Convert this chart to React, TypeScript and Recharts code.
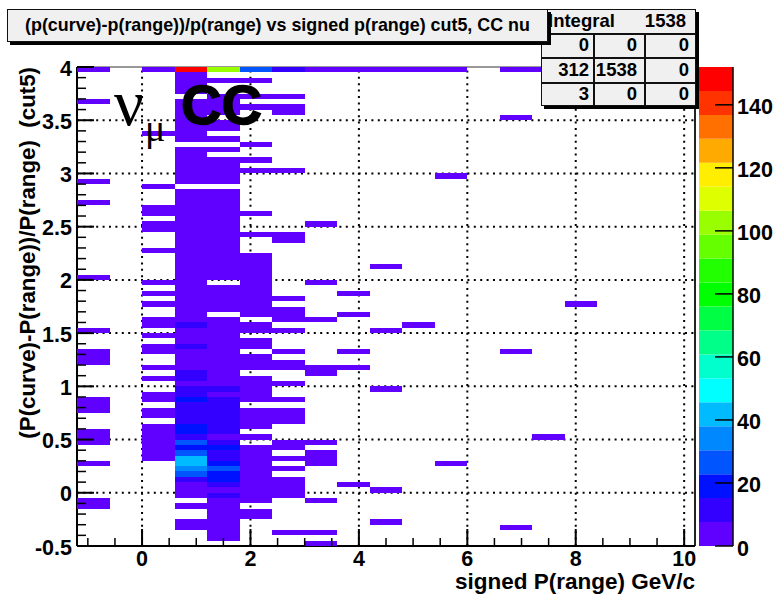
import React from 'react';
import { ScatterChart, Scatter, XAxis, YAxis, ReferenceLine, Label, BarChart, Bar } from 'recharts';

// Bin runs per momentum column: [first row from top, last row from top, count]
const col0 = [[0,0,4],[6,6,4],[21,21,4],[25,25,4],[39,39,4],[49,49,4],[53,55,4],[62,64,4],[68,70,4],[74,74,4],[81,82,4]];
const col2 = [[0,0,4],[12,12,4],[22,22,4],[26,27,4],[29,30,4],[34,34,4],[40,40,4],[42,42,4],[44,44,4],[47,48,4],[50,50,4],[52,53,4],[56,56,4],[58,58,4],[61,62,4],[64,65,4],[67,73,4]];
const col3 = [[0,0,152],[1,4,4],[6,13,4],[15,21,4],[23,47,4],[48,48,11],[49,51,4],[52,52,11],[53,56,4],[57,58,11],[59,59,4],[60,61,11],[62,62,19],[63,66,11],[67,68,19],[69,69,11],[70,70,26],[71,71,19],[72,72,26],[73,74,41],[75,75,34],[76,76,26],[77,77,11],[78,80,4],[82,82,4],[85,86,4]];
const col4 = [[0,0,102],[2,2,4],[5,8,4],[10,11,4],[13,13,4],[15,15,4],[17,21,4],[23,39,4],[41,45,4],[47,59,4],[60,60,11],[61,61,4],[62,68,11],[69,69,4],[70,70,11],[71,71,19],[72,73,11],[74,74,19],[75,75,26],[76,77,19],[78,78,11],[79,79,4],[80,80,11],[81,88,4]];
const col5 = [[0,0,26],[2,2,4],[5,5,4],[7,7,4],[14,14,4],[17,17,4],[19,19,4],[27,27,4],[31,31,4],[35,46,4],[48,49,4],[51,52,4],[54,56,4],[58,62,4],[64,67,4],[69,69,4],[71,81,4],[83,84,4]];
const col6 = [[0,0,11],[5,5,4],[7,8,4],[19,19,4],[31,32,4],[43,43,4],[45,47,4],[49,49,4],[53,53,4],[55,56,4],[59,59,4],[62,62,4],[64,66,4],[70,71,4],[73,73,4],[75,75,4],[77,80,4],[87,87,4]];
const col7 = [[0,0,4],[29,29,4],[40,40,4],[47,47,4],[56,57,4],[70,70,4],[72,74,4],[81,81,4],[87,87,4],[89,89,4]];
const col8 = [[0,0,4],[42,42,4],[46,46,4],[53,53,4],[56,56,4],[78,78,4]];
const col9 = [[0,0,4],[37,37,4],[49,49,4],[60,60,4],[79,79,4],[85,85,4]];
const col10 = [[0,0,4],[48,48,4]];
const col11 = [[0,0,4],[20,20,4],[74,74,4]];
const col13 = [[0,0,4],[9,9,4],[53,53,4],[86,86,4]];
const col14 = [[0,0,4],[69,69,4]];
const col15 = [[44,44,4]];
const columns: [number, number[][]][] = [[0,col0],[2,col2],[3,col3],[4,col4],[5,col5],[6,col6],[7,col7],[8,col8],[9,col9],[10,col10],[11,col11],[13,col13],[14,col14],[15,col15]];

const palette = ['#6000ff','#3300ff','#0011ff','#0055ff','#0088ff','#00bbff','#00ffff','#00ffcc','#00ff88','#00ff44','#00ff00','#22ff00','#66ff00','#99ff00','#ddff00','#ffee00','#ffaa00','#ff7000','#ff3300','#ff0000'];
const xTicks = [-1,-0.5,0,0.5,1,1.5,2,2.5,3,3.5,4,4.5,5,5.5,6,6.5,7,7.5,8,8.5,9,9.5,10];
const xGrid = [0,2,4,6,8,10];
const yTicks = [-0.5,-0.4,-0.3,-0.2,-0.1,0,0.1,0.2,0.3,0.4,0.5,0.6,0.7,0.8,0.9,1,1.1,1.2,1.3,1.4,1.5,1.6,1.7,1.8,1.9,2,2.1,2.2,2.3,2.4,2.5,2.6,2.7,2.8,2.9,3,3.1,3.2,3.3,3.4,3.5,3.6,3.7,3.8,3.9,4];
const yGrid = [0,0.5,1,1.5,2,2.5,3,3.5];
const zTicks = [0,20,40,60,80,100,120,140];
const statsRows = [['0','0','0'],['312','1538','0'],['3','0','0']];

const BAND = 7.6;
const colorOf = (v: number) => palette[Math.min(palette.length - 1, Math.floor(v / BAND))];
const cells: { x: number; y: number; count: number }[] = [];
columns.forEach(([c, runs]) => runs.forEach(([a, b, v]) => {
  for (let k = a; k <= b; k++) cells.push({ x: -1.2 + 0.6 * (c + 0.5), y: 4 - 0.05 * (k + 0.5), count: v });
}));
const barRow: Record<string, number | string> = { name: 'z' };
palette.forEach((_, i) => { barRow['b' + i] = BAND; });

const W = 782, H = 605, L = 77, R = 695, T = 67, B = 546;
const FONT = '"Liberation Sans", Arial, sans-serif';
const binW = (R - L) / 19, binH = (B - T) / 90;

const CellShape = (p: any) => {
  const x0 = Math.round(p.cx - binW / 2), x1 = Math.round(p.cx + binW / 2);
  const y0 = Math.round(p.cy - binH / 2), y1 = Math.round(p.cy + binH / 2);
  return <rect x={x0} y={y0} width={x1 - x0} height={y1 - y0} fill={colorOf(p.payload.count)} />;
};
const XTick = (p: any) => {
  const v = p.payload.value;
  const major = v % 2 === 0;
  return <g>
    <line x1={p.x} x2={p.x} y1={p.y} y2={p.y - (major ? 17 : 8)} stroke="#000" strokeWidth={major ? 2 : 1.5} />
    {major && <text x={p.x} y={p.y + 20} textAnchor="middle" fontFamily={FONT} fontWeight="bold" fontSize={21.5} fill="#000">{v}</text>}
  </g>;
};
const YTick = (p: any) => {
  const v = p.payload.value;
  const major = Math.abs(v * 2 - Math.round(v * 2)) < 1e-6;
  return <g>
    <line x1={p.x} x2={p.x + (major ? 17 : 9)} y1={p.y} y2={p.y} stroke="#000" strokeWidth={major ? 2 : 1.5} />
    {major && <text x={p.x - 5} y={p.y + 8.5} textAnchor="end" fontFamily={FONT} fontWeight="bold" fontSize={21.5} fill="#000">{v}</text>}
  </g>;
};
const ZTick = (p: any) => <g>
  <line x1={p.x - 18} x2={p.x} y1={p.y} y2={p.y} stroke="#000" strokeWidth={1.5} />
  <text x={p.x + 4} y={p.y + 9.5} fontFamily={FONT} fontWeight="bold" fontSize={21.5} fill="#000">{p.payload.value}</text>
</g>;

const box: React.CSSProperties = { position: 'absolute', boxSizing: 'border-box', background: '#f0f0f0', border: '1.5px solid #111', boxShadow: '3px 3px 0 #000' };
const statText = (right: number, top: number, s: string, k: string) => (
  <div key={k} style={{ position: 'absolute', right: W - right, top, fontFamily: FONT, fontWeight: 'bold', fontSize: 18.5, lineHeight: '22px', whiteSpace: 'nowrap', color: '#000' }}>{s}</div>
);
const colRight = [589, 637, 689];
const rowTop = [34, 59, 83];
const colLine = [593, 644];
const rowLine = [33, 57, 82];

export default function App() {
  return (
    <div style={{ position: 'fixed', left: 0, top: 0, width: W, height: H, background: '#fff', overflow: 'hidden' }}>
      <div style={{ position: 'absolute', left: 0, top: 0 }}>
        <ScatterChart width={W} height={H} margin={{ left: 0, top: T, right: W - R, bottom: 0 }}>
          <XAxis type="number" dataKey="x" domain={[-1.2, 10.2]} ticks={xTicks} interval={0} height={H - B} tickLine={false} tickSize={0} tickMargin={0} tick={<XTick />} axisLine={{ stroke: '#000', strokeWidth: 2 }} allowDataOverflow>
            <Label content={() => <text x={695} y={589} textAnchor="end" fontFamily={FONT} fontWeight="bold" fontSize={22.5} fill="#000">signed P(range) GeV/c</text>} />
          </XAxis>
          <YAxis type="number" dataKey="y" domain={[-0.5, 4]} ticks={yTicks} interval={0} width={L} tickLine={false} tickSize={0} tickMargin={0} tick={<YTick />} axisLine={{ stroke: '#000', strokeWidth: 2 }} allowDataOverflow>
            <Label content={() => <text transform="translate(34.5 67) rotate(-90)" textAnchor="end" fontFamily={FONT} fontWeight="bold" fontSize={22.3} fill="#000" style={{ whiteSpace: 'pre' }}>{'(P(curve)-P(range))/P(range)  (cut5)'}</text>} />
          </YAxis>
          <Scatter data={cells} shape={CellShape} isAnimationActive={false} />
          {xGrid.map(v => <ReferenceLine key={'x' + v} x={v} stroke="#000" strokeWidth={2} strokeDasharray="2 4.4" />)}
          {yGrid.map(v => <ReferenceLine key={'y' + v} y={v} stroke="#000" strokeWidth={2} strokeDasharray="2 4.4" />)}
          <ReferenceLine y={4} stroke="#333" strokeWidth={1} />
          <ReferenceLine x={10.2} stroke="#222" strokeWidth={2} />
        </ScatterChart>
      </div>
      <div style={{ position: 'absolute', left: 699, top: 0 }}>
        <BarChart width={W - 699} height={H} data={[barRow]} barCategoryGap={0} margin={{ left: 0, right: 0, top: T, bottom: H - B }}>
          <XAxis dataKey="name" hide />
          <YAxis orientation="right" type="number" domain={[0, 152]} ticks={zTicks} interval={0} width={W - 733} tickLine={false} tickSize={0} tickMargin={0} tick={<ZTick />} axisLine={{ stroke: '#000', strokeWidth: 1.5 }} />
          {palette.map((c, i) => <Bar key={c} dataKey={'b' + i} stackId="z" fill={c} isAnimationActive={false} />)}
        </BarChart>
      </div>
      <div style={{ position: 'absolute', left: 114, top: 70, fontFamily: '"Liberation Serif", serif', fontSize: 66, lineHeight: '66px', color: '#000' }}>ν</div>
      <div style={{ position: 'absolute', left: 145, top: 107, fontFamily: '"Liberation Serif", serif', fontSize: 38, lineHeight: '42px', color: '#000' }}>μ</div>
      <div style={{ position: 'absolute', left: 181, top: 72, fontFamily: FONT, fontWeight: 'bold', fontSize: 56, lineHeight: '66px', color: '#000', WebkitTextStroke: '1.5px #000' }}>CC</div>
      <div style={{ ...box, left: 541, top: 9, width: 155, height: 97 }}>
        {colLine.map(x => <div key={x} style={{ position: 'absolute', left: x - 542, top: 23, width: 1.5, bottom: 0, background: '#111' }} />)}
        {rowLine.map(y => <div key={y} style={{ position: 'absolute', top: y - 10, left: 0, right: 0, height: 1.5, background: '#111' }} />)}
      </div>
      <div style={{ position: 'absolute', left: 548, top: 10, fontFamily: FONT, fontWeight: 'bold', fontSize: 18.5, lineHeight: '22px', color: '#000' }}>Integral</div>
      {statText(686, 10, '1538', 'tot')}
      {statsRows.map((row, r) => row.map((s, c) => statText(colRight[c], rowTop[r], s, r + '-' + c)))}
      <div style={{ ...box, left: 7, top: 9, width: 541, height: 33, fontFamily: FONT, fontWeight: 'bold', fontSize: 17.9, lineHeight: '31px', textAlign: 'center', color: '#000', whiteSpace: 'nowrap' }}>(p(curve)-p(range))/p(range) vs signed p(range) cut5, CC nu</div>
    </div>
  );
}
